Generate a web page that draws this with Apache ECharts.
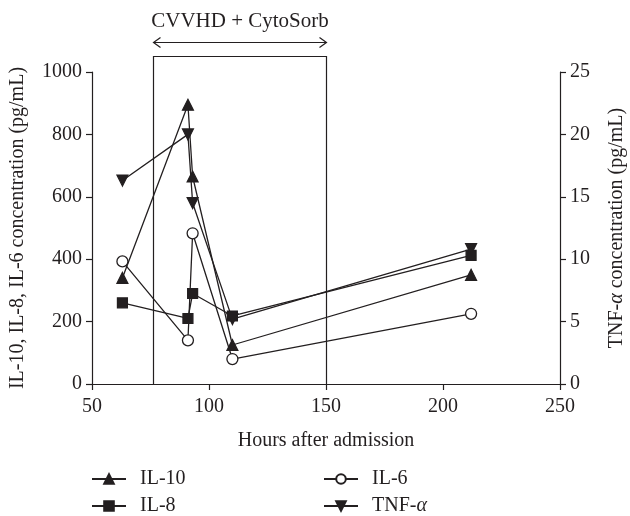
<!DOCTYPE html>
<html>
<head>
<meta charset="utf-8">
<script src="https://cdn.jsdelivr.net/npm/echarts@6/dist/echarts.min.js"></script>
<style>
html,body{margin:0;padding:0;background:#fff;}
#c{width:630px;height:516px;}
</style>
</head>
<body>
<div id="c"></div>
<script>
const hours = [63, 91, 93, 110, 212];
const il10 = [340, 895, 665, 125, 350];
const il8 = [260, 210, 290, 218, 412];
const il6 = [393, 140, 483, 80, 225];
const tnf = [16.3, 20.0, 14.5, 5.2, 10.8];
const xTicks = [50, 100, 150, 200, 250];
const boxRange = [76, 150];
const boxTop = 1050;
const boxLabel = 'CVVHD + CytoSorb';

const FONT = 'Liberation Serif';
const FS = 20;
const INK = '#231f20';
const chart = echarts.init(document.getElementById('c'));

function pairs(ys){ return hours.map((h,i)=>[h, ys[i]]); }

const lineStyle = {color: INK, width: 1.3};
function mk(name, ys, symbol, size, yIdx, rot){
  return {
    name, type:'line', data: pairs(ys), yAxisIndex: yIdx,
    symbol, symbolSize: size, symbolRotate: rot||0, showSymbol:true,
    lineStyle, itemStyle:{color: INK, borderColor: INK, borderWidth: 1.2},
    emphasis:{disabled:true}, animation:false, z: 5
  };
}

const rich = {a:{fontFamily:FONT, fontSize:FS, color:INK}, i:{fontFamily:FONT, fontSize:FS, color:INK, fontStyle:'italic'}};
const legendCommon = {
  orient:'vertical', itemWidth:34, itemHeight:12, itemGap:7, height:70, padding:0,
  textStyle:{fontFamily:FONT, fontSize:FS, color:INK, padding:[0,0,0,9], rich},
  formatter: n => n === 'TNF-α' ? '{a|TNF-}{i|α}' : '{a|' + n + '}',
  selectedMode:false
};
const axisText = {fontFamily:FONT, fontSize:FS, color:INK};

chart.setOption({
  animation:false,
  grid:{left:92, right:70, top:72, bottom:132, containLabel:false, outerBoundsMode:'none'},
  xAxis:{
    type:'value', min:xTicks[0], max:xTicks[xTicks.length-1], interval:50,
    name:'Hours after admission', nameLocation:'middle', nameGap:47,
    nameTextStyle:axisText,
    axisLine:{show:true, onZero:false, lineStyle:{color:INK, width:1.2}},
    axisTick:{show:true, inside:false, length:6, lineStyle:{color:INK, width:1.2}},
    axisLabel:Object.assign({margin:13, formatter: v => String(v)}, axisText),
    splitLine:{show:false}
  },
  yAxis:[{
    type:'value', min:0, max:1000, interval:200, position:'left',
    name:'IL-10, IL-8, IL-6 concentration (pg/mL)', nameLocation:'middle', nameGap:64,
    nameTextStyle:axisText,
    axisLine:{show:true, onZero:false, lineStyle:{color:INK, width:1.2}},
    axisTick:{show:true, inside:false, length:6, lineStyle:{color:INK, width:1.2}},
    axisLabel:Object.assign({margin:10, formatter: v => String(v)}, axisText),
    splitLine:{show:false}
  },{
    type:'value', min:0, max:25, interval:5, position:'right',
    name:'{a|TNF-}{i|α}{a| concentration (pg/mL)}', nameLocation:'middle', nameGap:47,
    nameTextStyle:Object.assign({rich}, axisText),
    axisLine:{show:true, onZero:false, lineStyle:{color:INK, width:1.2}},
    axisTick:{show:true, inside:false, length:6, lineStyle:{color:INK, width:1.2}},
    axisLabel:Object.assign({margin:10, formatter: v => String(v)}, axisText),
    splitLine:{show:false}
  }],
  legend:[
    Object.assign({}, legendCommon, {left:91, top:469, data:['IL-10','IL-8']}),
    Object.assign({}, legendCommon, {left:323, top:469, data:['IL-6','TNF-α']})
  ],
  series:[
    mk('IL-10', il10, 'triangle', 11, 0),
    mk('IL-8', il8, 'rect', 10, 0),
    Object.assign(mk('IL-6', il6, 'circle', 11, 0), {itemStyle:{color:'#fff', borderColor:INK, borderWidth:1.3}}),
    mk('TNF-α', tnf, 'triangle', 11, 1, 180)
  ]
});

function drawAnno(){
  const p0 = chart.convertToPixel({xAxisIndex:0, yAxisIndex:0}, [boxRange[0], 0]);
  const p1 = chart.convertToPixel({xAxisIndex:0, yAxisIndex:0}, [boxRange[1], boxTop]);
  const x0 = Math.round(p0[0]) + 0.5, x1 = Math.round(p1[0]) + 0.5;
  const yb = Math.round(p0[1]) + 0.5, yt = Math.round(p1[1]) + 0.5;
  const ay = yt - 14;
  const st = {stroke: INK, lineWidth: 1.2, fill: null};
  chart.setOption({graphic:[
    {type:'rect', shape:{x:x0, y:yt, width:x1-x0, height:yb-yt}, style:{stroke:INK, lineWidth:1.2, fill:'transparent'}, z:1, silent:true},
    {type:'line', shape:{x1:x0, y1:ay, x2:x1, y2:ay}, style:st, silent:true},
    {type:'polyline', shape:{points:[[x0+7, ay-5],[x0, ay],[x0+7, ay+5]]}, style:st, silent:true},
    {type:'polyline', shape:{points:[[x1-7, ay-5],[x1, ay],[x1-7, ay+5]]}, style:st, silent:true},
    {type:'text', x:(x0+x1)/2, y:ay-11, style:{text:boxLabel, fontFamily:FONT, fontSize:21, fill:INK, align:'center', verticalAlign:'bottom'}, silent:true}
  ]});
}
drawAnno();
</script>
</body>
</html>
